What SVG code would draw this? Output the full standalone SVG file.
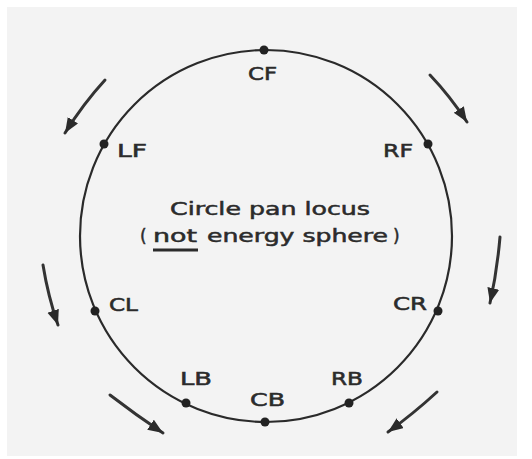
<svg xmlns="http://www.w3.org/2000/svg" width="532" height="459" viewBox="0 0 532 459">
  <style>
    .lbl { font-family: "DejaVu Sans", "Liberation Sans", sans-serif; font-size: 18px; fill: #2b2b2b; stroke: #2b2b2b; stroke-width: 0.55px; }
    .ctr { font-family: "DejaVu Sans", "Liberation Sans", sans-serif; font-size: 17px; fill: #2b2b2b; stroke: #2b2b2b; stroke-width: 0.5px; }
    .dot { fill: #222; }
    .arr { fill: none; stroke: #333; stroke-width: 3; stroke-linecap: round; marker-end: url(#ah); }
  </style>
  <defs>
    <marker id="ah" markerUnits="userSpaceOnUse" markerWidth="17" markerHeight="13" refX="15" refY="6" orient="auto" viewBox="0 0 17 13">
      <path d="M0,0 L15,6 L0,12 Z" fill="#2a2a2a"/>
    </marker>
  </defs>
  <rect x="0" y="0" width="532" height="459" fill="#ffffff"/>
  <rect x="7" y="7" width="510" height="449" fill="#f3f3f3"/>

  <g id="locus">
    <circle cx="266" cy="236" r="186" fill="none" stroke="#2a2a2a" stroke-width="2.2"/>
  </g>

  <g id="CF"><circle class="dot" cx="264" cy="50" r="4.5"/><text class="lbl" x="248" y="80" textLength="29" lengthAdjust="spacingAndGlyphs">CF</text></g>
  <g id="LF"><circle class="dot" cx="104" cy="144" r="4.5"/><text class="lbl" x="117" y="157" textLength="30" lengthAdjust="spacingAndGlyphs">LF</text></g>
  <g id="RF"><circle class="dot" cx="428" cy="144" r="4.5"/><text class="lbl" x="383" y="157" textLength="30" lengthAdjust="spacingAndGlyphs">RF</text></g>
  <g id="CL"><circle class="dot" cx="95" cy="311" r="4.5"/><text class="lbl" x="109" y="311" textLength="29" lengthAdjust="spacingAndGlyphs">CL</text></g>
  <g id="CR"><circle class="dot" cx="438" cy="311" r="4.5"/><text class="lbl" x="393" y="310" textLength="34" lengthAdjust="spacingAndGlyphs">CR</text></g>
  <g id="LB"><circle class="dot" cx="186" cy="403" r="4.5"/><text class="lbl" x="180" y="385" textLength="32" lengthAdjust="spacingAndGlyphs">LB</text></g>
  <g id="RB"><circle class="dot" cx="349" cy="403" r="4.5"/><text class="lbl" x="331" y="385" textLength="32" lengthAdjust="spacingAndGlyphs">RB</text></g>
  <g id="CB"><circle class="dot" cx="265" cy="422" r="4.5"/><text class="lbl" x="250" y="406" textLength="35" lengthAdjust="spacingAndGlyphs">CB</text></g>

  <g id="caption">
    <text class="ctr" x="170" y="215" textLength="200" lengthAdjust="spacingAndGlyphs">Circle pan locus</text>
    <text class="ctr" y="242"><tspan x="140">(</tspan><tspan x="153" textLength="44" lengthAdjust="spacingAndGlyphs">not</tspan><tspan x="199" textLength="189" lengthAdjust="spacingAndGlyphs"> energy sphere</tspan><tspan x="393">)</tspan></text>
    <rect x="153" y="248.5" width="45" height="3" fill="#2b2b2b"/>
  </g>

  <g id="connectors">
    <path class="arr" d="M105,80 Q83,104 65,133"/>
    <path class="arr" d="M430,75 Q450,96 467,122"/>
    <path class="arr" d="M43,265 Q48,296 58,325"/>
    <path class="arr" d="M500,237 Q497,272 490,303"/>
    <path class="arr" d="M110,395 Q136,415 163,433"/>
    <path class="arr" d="M437,392 Q413,414 388,432"/>
  </g>
</svg>
